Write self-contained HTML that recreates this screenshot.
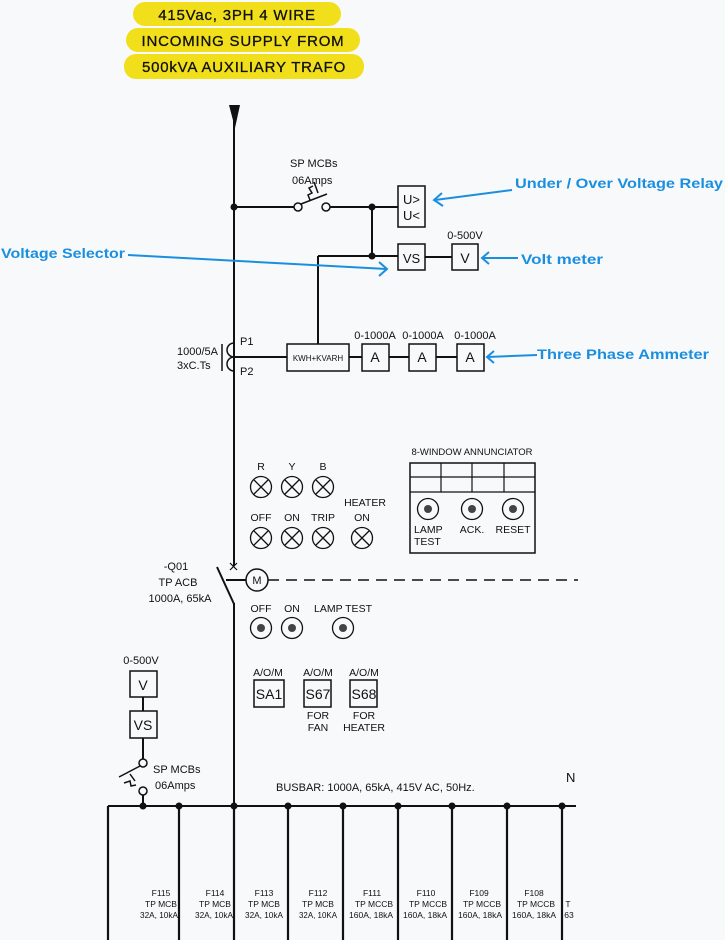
<!DOCTYPE html>
<html><head><meta charset="utf-8"><style>
html,body{margin:0;padding:0;background:#f8f9fa;}
svg{display:block;font-family:"Liberation Sans",sans-serif;}
</style></head><body>
<svg width="725" height="940" viewBox="0 0 725 940" xmlns="http://www.w3.org/2000/svg">
<rect width="725" height="940" fill="#f8f9fa"/>
<g fill="#f2df1c">
<rect x="133" y="2" width="208" height="24" rx="12"/>
<rect x="126" y="28" width="234" height="24" rx="12"/>
<rect x="124" y="54" width="240" height="25" rx="12"/>
</g>
<g font-size="15" fill="#111" text-anchor="middle" letter-spacing="0.8" stroke="#111" stroke-width="0.3">
<text x="237" y="20">415Vac, 3PH 4 WIRE</text>
<text x="243" y="46">INCOMING SUPPLY FROM</text>
<text x="244" y="72">500kVA AUXILIARY TRAFO</text>
</g>
<g stroke="#111" stroke-width="2" fill="none">
<line x1="234" y1="115" x2="234" y2="566"/>
<line x1="234" y1="603" x2="234" y2="806"/>
<line x1="234" y1="207" x2="294" y2="207"/>
<line x1="330" y1="207" x2="398" y2="207"/>
<line x1="372" y1="207" x2="372" y2="256"/>
<line x1="318" y1="256" x2="398" y2="256"/>
<line x1="425" y1="257" x2="452" y2="257"/>
<line x1="318" y1="256" x2="318" y2="344"/>
<line x1="234" y1="357" x2="287" y2="357"/>
<line x1="349" y1="357" x2="362" y2="357"/>
<line x1="389" y1="357" x2="409" y2="357"/>
<line x1="436" y1="357" x2="457" y2="357"/>
<line x1="217" y1="567" x2="234" y2="604"/>
<line x1="226" y1="580" x2="246" y2="580"/>
<line x1="268" y1="580" x2="578" y2="580" stroke-width="1.5" stroke-dasharray="11,7"/>
<line x1="108" y1="806" x2="576" y2="806"/>
<g stroke-width="2.2">
<line x1="108" y1="806" x2="108" y2="940"/><line x1="179" y1="806" x2="179" y2="940"/>
<line x1="234" y1="806" x2="234" y2="940"/><line x1="288" y1="806" x2="288" y2="940"/>
<line x1="343" y1="806" x2="343" y2="940"/><line x1="398" y1="806" x2="398" y2="940"/>
<line x1="452" y1="806" x2="452" y2="940"/><line x1="507" y1="806" x2="507" y2="940"/>
<line x1="562" y1="806" x2="562" y2="940"/>
</g>
<line x1="143" y1="697" x2="143" y2="711"/>
<line x1="143" y1="738" x2="143" y2="759"/>
<line x1="143" y1="794" x2="143" y2="806"/>
</g>
<polygon points="229,105 240,105 235,128" fill="#111"/>
<g fill="#111">
<circle cx="234" cy="207" r="3.5"/><circle cx="372" cy="207" r="3.5"/><circle cx="372" cy="256" r="3.5"/>
<circle cx="143" cy="806" r="3.5"/><circle cx="179" cy="806" r="3.5"/><circle cx="234" cy="806" r="3.5"/>
<circle cx="288" cy="806" r="3.5"/><circle cx="343" cy="806" r="3.5"/><circle cx="398" cy="806" r="3.5"/>
<circle cx="452" cy="806" r="3.5"/><circle cx="507" cy="806" r="3.5"/><circle cx="562" cy="806" r="3.5"/>
</g>
<g stroke="#111" stroke-width="1.5" fill="#f8f9fa">
<circle cx="298" cy="207" r="4"/><circle cx="326" cy="207" r="4"/>
<line x1="301" y1="204" x2="327" y2="194" fill="none"/>
<polyline points="310,200 308,195 312,193 309,188 313,186" fill="none"/>
<line x1="314" y1="182" x2="318" y2="193" fill="none"/>
<circle cx="143" cy="763" r="4"/><circle cx="143" cy="791" r="4"/>
<line x1="140" y1="766" x2="119" y2="777" fill="none"/>
<polyline points="124,783 130,781 131,786 136,785" fill="none"/>
<line x1="130" y1="774" x2="135" y2="781" fill="none"/>
</g>
<g stroke="#111" stroke-width="1.5" fill="none">
<path d="M234,343 a7,7 0 0 0 0,14"/>
<path d="M234,357 a7,7 0 0 0 0,14"/>
<line x1="222" y1="344" x2="222" y2="371"/>
</g>
<g stroke="#111" stroke-width="1.5" fill="#f8f9fa">
<rect x="398" y="186" width="27" height="41"/>
<rect x="398" y="244" width="27" height="26"/>
<rect x="452" y="244" width="26" height="26"/>
<rect x="287" y="344" width="62" height="27"/>
<rect x="362" y="344" width="27" height="27"/>
<rect x="409" y="344" width="27" height="27"/>
<rect x="457" y="344" width="27" height="27"/>
<rect x="130" y="671" width="27" height="26"/>
<rect x="130" y="711" width="27" height="27"/>
<rect x="254" y="680" width="30" height="27"/>
<rect x="304" y="680" width="27" height="27"/>
<rect x="350" y="680" width="27" height="27"/>
<rect x="410" y="463" width="125" height="90"/>
<circle cx="257" cy="580" r="11"/>
</g>
<g stroke="#111" stroke-width="1.2">
<line x1="410" y1="477" x2="535" y2="477"/><line x1="410" y1="492" x2="535" y2="492"/>
<line x1="441" y1="463" x2="441" y2="492"/><line x1="472" y1="463" x2="472" y2="492"/><line x1="504" y1="463" x2="504" y2="492"/>
<line x1="230" y1="563" x2="237" y2="570"/><line x1="237" y1="563" x2="230" y2="570"/>
</g>
<g stroke="#111" stroke-width="1.3" fill="none">
<g id="l"><circle cx="261" cy="487" r="10.5"/><path d="M254,480 L268,494 M268,480 L254,494"/></g>
<use href="#l" x="31"/><use href="#l" x="62"/>
<use href="#l" y="51"/><use href="#l" x="31" y="51"/><use href="#l" x="62" y="51"/><use href="#l" x="101" y="51"/>
</g>
<g stroke="#111" stroke-width="1.3" fill="none">
<circle cx="428" cy="509" r="10.5"/><circle cx="472" cy="509" r="10.5"/><circle cx="513" cy="509" r="10.5"/>
<circle cx="261" cy="628" r="10.5"/><circle cx="292" cy="628" r="10.5"/><circle cx="343" cy="628" r="10.5"/>
</g>
<g fill="#444">
<circle cx="428" cy="509" r="4"/><circle cx="472" cy="509" r="4"/><circle cx="513" cy="509" r="4"/>
<circle cx="261" cy="628" r="4"/><circle cx="292" cy="628" r="4"/><circle cx="343" cy="628" r="4"/>
</g>
<g fill="#111" font-size="11">
<text x="290" y="167">SP MCBs</text>
<text x="292" y="184">06Amps</text>
<text x="403" y="204" font-size="13">U&gt;</text>
<text x="403" y="220" font-size="13">U&lt;</text>
<text x="411.5" y="263" font-size="13" text-anchor="middle">VS</text>
<text x="465" y="263" font-size="14" text-anchor="middle">V</text>
<text x="465" y="239" text-anchor="middle">0-500V</text>
<text x="240" y="345">P1</text>
<text x="240" y="375">P2</text>
<text x="177" y="355">1000/5A</text>
<text x="177" y="369">3xC.Ts</text>
<text x="318" y="361" font-size="8" text-anchor="middle">KWH+KVARH</text>
<text x="375" y="362" font-size="14" text-anchor="middle">A</text>
<text x="422" y="362" font-size="14" text-anchor="middle">A</text>
<text x="470" y="362" font-size="14" text-anchor="middle">A</text>
<text x="375" y="339" text-anchor="middle">0-1000A</text>
<text x="423" y="339" text-anchor="middle">0-1000A</text>
<text x="475" y="339" text-anchor="middle">0-1000A</text>
<text x="472" y="455" font-size="9.5" text-anchor="middle">8-WINDOW ANNUNCIATOR</text>
<g font-size="10.5" text-anchor="middle">
<text x="261" y="470">R</text><text x="292" y="470">Y</text><text x="323" y="470">B</text>
<text x="261" y="521">OFF</text><text x="292" y="521">ON</text><text x="323" y="521">TRIP</text>
<text x="365" y="506">HEATER</text><text x="362" y="521">ON</text>
<text x="472" y="533">ACK.</text><text x="513" y="533">RESET</text>
<text x="261" y="612">OFF</text><text x="292" y="612">ON</text><text x="343" y="612">LAMP TEST</text>
<text x="268" y="676">A/O/M</text><text x="318" y="676">A/O/M</text><text x="364" y="676">A/O/M</text>
<text x="318" y="719">FOR</text><text x="318" y="731">FAN</text>
<text x="364" y="719">FOR</text><text x="364" y="731">HEATER</text>
<text x="257" y="584" font-size="11">M</text>
</g>
<text x="414" y="533" font-size="10.5">LAMP</text><text x="414" y="545" font-size="10.5">TEST</text>
<text x="269" y="699" font-size="14" text-anchor="middle">SA1</text>
<text x="318" y="699" font-size="14" text-anchor="middle">S67</text>
<text x="364" y="699" font-size="14" text-anchor="middle">S68</text>
<text x="143" y="690" font-size="14" text-anchor="middle">V</text>
<text x="143" y="730" font-size="14" text-anchor="middle">VS</text>
<text x="141" y="664" text-anchor="middle">0-500V</text>
<text x="153" y="773">SP MCBs</text>
<text x="155" y="789">06Amps</text>
<text x="176" y="570" text-anchor="middle">-Q01</text>
<text x="178" y="586" text-anchor="middle">TP ACB</text>
<text x="180" y="602" text-anchor="middle">1000A, 65kA</text>
<text x="276" y="791">BUSBAR: 1000A, 65kA, 415V AC, 50Hz.</text>
<text x="566" y="782" font-size="13">N</text>
</g>
<g fill="#111" font-size="8.5" text-anchor="middle">
<text x="161" y="896">F115</text><text x="161" y="907">TP MCB</text><text x="159" y="918" textLength="38" lengthAdjust="spacingAndGlyphs">32A, 10kA</text>
<text x="215" y="896">F114</text><text x="215" y="907">TP MCB</text><text x="214" y="918" textLength="38" lengthAdjust="spacingAndGlyphs">32A, 10kA</text>
<text x="264" y="896">F113</text><text x="264" y="907">TP MCB</text><text x="264" y="918" textLength="38" lengthAdjust="spacingAndGlyphs">32A, 10kA</text>
<text x="318" y="896">F112</text><text x="318" y="907">TP MCB</text><text x="318" y="918" textLength="38" lengthAdjust="spacingAndGlyphs">32A, 10KA</text>
<text x="372" y="896">F111</text><text x="374" y="907">TP MCCB</text><text x="371" y="918" textLength="44" lengthAdjust="spacingAndGlyphs">160A, 18kA</text>
<text x="426" y="896">F110</text><text x="428" y="907">TP MCCB</text><text x="425" y="918" textLength="44" lengthAdjust="spacingAndGlyphs">160A, 18kA</text>
<text x="479" y="896">F109</text><text x="482" y="907">TP MCCB</text><text x="480" y="918" textLength="44" lengthAdjust="spacingAndGlyphs">160A, 18kA</text>
<text x="534" y="896">F108</text><text x="536" y="907">TP MCCB</text><text x="534" y="918" textLength="44" lengthAdjust="spacingAndGlyphs">160A, 18kA</text>
<text x="568" y="907">T</text><text x="569" y="918">63</text>
</g>
<g stroke="#1a8fe0" stroke-width="2" fill="none">
<line x1="512" y1="190" x2="435" y2="200"/>
<polyline points="442,193 434,200 443,206"/>
<line x1="128" y1="255" x2="386" y2="269"/>
<polyline points="379,262 387,269 379,276"/>
<line x1="518" y1="258" x2="482" y2="258"/>
<polyline points="489,252 482,258 489,264"/>
<line x1="537" y1="355" x2="487" y2="357"/>
<polyline points="494,351 487,357 494,363"/>
</g>
<g fill="#1a8fe0" font-size="14" font-weight="bold">
<text x="515" y="188" textLength="208" lengthAdjust="spacingAndGlyphs">Under / Over Voltage Relay</text>
<text x="1" y="258" textLength="124" lengthAdjust="spacingAndGlyphs">Voltage Selector</text>
<text x="521" y="264" textLength="82" lengthAdjust="spacingAndGlyphs">Volt meter</text>
<text x="537" y="359" textLength="172" lengthAdjust="spacingAndGlyphs">Three Phase Ammeter</text>
</g>
</svg>
</body></html>
